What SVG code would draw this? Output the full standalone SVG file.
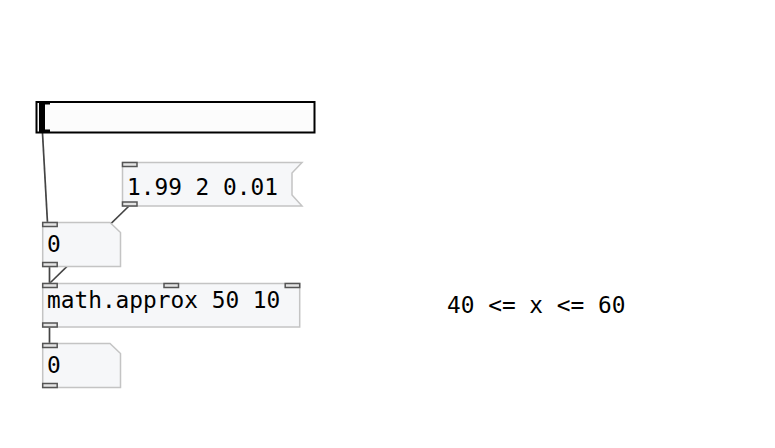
<svg xmlns="http://www.w3.org/2000/svg" width="775" height="448" viewBox="0 0 775 448">
<style>
.box{fill:#f6f7f9;stroke:#c4c4c4;stroke-width:1.5}
.io{fill:#e4e4e4;stroke:#555;stroke-width:1.5}
.t{font-family:"DejaVu Sans Mono","Liberation Mono",monospace;font-size:22.8px;fill:#000}
.c{stroke:#444;stroke-width:1.7;fill:none}
</style>
<rect width="775" height="448" fill="#fff"/>
<g id="connectors">
<line class="c" x1="42.5" y1="133" x2="47.5" y2="223"/>
<line class="c" x1="129" y1="206" x2="50" y2="283"/>
<line class="c" x1="49.5" y1="266" x2="49.5" y2="284"/>
<line class="c" x1="49.5" y1="326" x2="49.5" y2="344"/>
</g>
<g id="slider">
<rect x="36.5" y="102" width="278" height="30.5" fill="#fcfcfc" stroke="#000" stroke-width="2"/>
<rect x="39" y="102" width="6" height="30" fill="#000"/>
<rect x="39" y="102" width="11" height="2.5" fill="#000"/>
<rect x="39" y="129.5" width="11" height="2.5" fill="#000"/>
</g>
<g id="msg">
<path class="box" d="M122.5,162.5 H302 L292,173 V195 L302,206 H122.5 Z"/>
<rect class="io" x="122.5" y="162.5" width="14.5" height="4"/>
<rect class="io" x="122.5" y="202" width="14.5" height="4"/>
<text class="t" x="127" y="194.5">1.99 2 0.01</text>
</g>
<g id="num1">
<path class="box" d="M42.7,222.5 H110 L120.5,232.5 V266.5 H42.7 Z"/>
<rect class="io" x="42.7" y="222.5" width="14.5" height="4"/>
<rect class="io" x="42.7" y="262.5" width="14.5" height="4"/>
<text class="t" x="47" y="252">0</text>
</g>
<g id="approx">
<rect class="box" x="42.7" y="283.5" width="257" height="43.5"/>
<rect class="io" x="42.7" y="283.5" width="14.5" height="4"/>
<rect class="io" x="164" y="283.5" width="14.5" height="4"/>
<rect class="io" x="285.2" y="283.5" width="14.5" height="4"/>
<rect class="io" x="42.7" y="323" width="14.5" height="4"/>
<text class="t" x="47" y="307.5">math.approx 50 10</text>
</g>
<g id="num2">
<path class="box" d="M42.7,343.5 H110 L120.5,353.5 V387.5 H42.7 Z"/>
<rect class="io" x="42.7" y="343.5" width="14.5" height="4"/>
<rect class="io" x="42.7" y="383.5" width="14.5" height="4"/>
<text class="t" x="47" y="373">0</text>
</g>
<g id="comment">
<text class="t" x="447" y="312.5">40 &lt;= x &lt;= 60</text>
</g>
</svg>
